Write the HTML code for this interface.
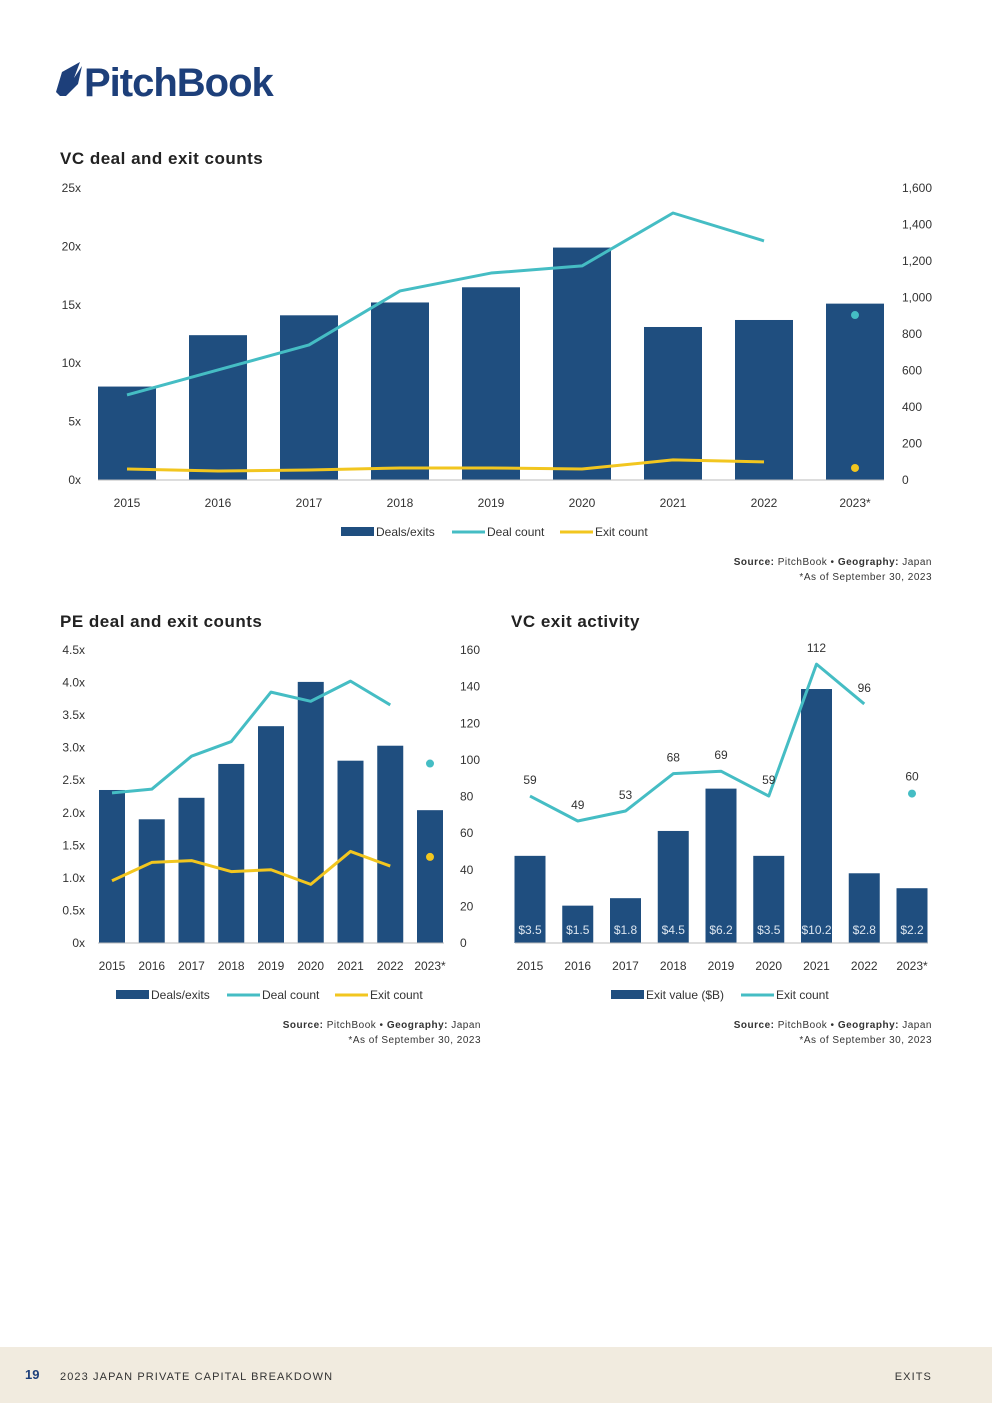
<!DOCTYPE html>
<html><head><meta charset="utf-8"><style>
body{margin:0;background:#fff;}
svg{display:block;font-family:"Liberation Sans",sans-serif;}
.t{font-size:12px;fill:#333;}
.h{font-size:17px;font-weight:bold;fill:#222;letter-spacing:0.5px;}
.s{font-size:10px;fill:#333;letter-spacing:0.5px;}
</style></head><body>
<svg id="pg" width="992" height="1403" viewBox="0 0 992 1403">
<g>
<path d="M62 72 L80 62 L74 78 L82 66 L78 84 L66 96 L60 96 L56 92 Z" fill="#1d3f7a"/>
<text x="84" y="96" font-size="40" font-weight="bold" fill="#1d3f7a" letter-spacing="-1">PitchBook</text>
</g>
<text class="h" x="60" y="164">VC deal and exit counts</text>
<text class="h" x="60" y="627">PE deal and exit counts</text>
<text class="h" x="511" y="627">VC exit activity</text>
<g id="c1"></g><g id="c2"></g><g id="c3"></g>
<g><text class="s" x="932" y="565" text-anchor="end"><tspan font-weight="bold">Source:</tspan> PitchBook • <tspan font-weight="bold">Geography:</tspan> Japan</text><text class="s" x="932" y="580" text-anchor="end">*As of September 30, 2023</text></g>
<g><text class="s" x="481" y="1028" text-anchor="end"><tspan font-weight="bold">Source:</tspan> PitchBook • <tspan font-weight="bold">Geography:</tspan> Japan</text><text class="s" x="481" y="1043" text-anchor="end">*As of September 30, 2023</text></g>
<g><text class="s" x="932" y="1028" text-anchor="end"><tspan font-weight="bold">Source:</tspan> PitchBook • <tspan font-weight="bold">Geography:</tspan> Japan</text><text class="s" x="932" y="1043" text-anchor="end">*As of September 30, 2023</text></g>
<g>
<rect x="0" y="1347" width="992" height="56" fill="#f1ebdf"/>
<text x="25" y="1379" font-size="13" font-weight="bold" fill="#1d3f7a">19</text>
<text x="60" y="1380" font-size="11" fill="#333" letter-spacing="1.1">2023 JAPAN PRIVATE CAPITAL BREAKDOWN</text>
<text x="932" y="1380" font-size="11" fill="#333" letter-spacing="1.1" text-anchor="end">EXITS</text>
</g>
</svg>
<script>
const years=["2015","2016","2017","2018","2019","2020","2021","2022","2023*"];
const vcBars=[8.0,12.4,14.1,15.2,16.5,19.9,13.1,13.7,15.1];
const vcDeals=[466,603,740,1036,1134,1173,1463,1310,904];
const vcExits=[60,49,55,66,66,60,110,99,66];
const vcLeftTicks=["0x","5x","10x","15x","20x","25x"];
const vcRightTicks=["0","200","400","600","800","1,000","1,200","1,400","1,600"];
const peBars=[2.35,1.90,2.23,2.75,3.33,4.01,2.80,3.03,2.04];
const peDeals=[82,84,102,110,137,132,143,130,98];
const peExits=[34,44,45,39,40,32,50,42,47];
const peLeftTicks=["0x","0.5x","1.0x","1.5x","2.0x","2.5x","3.0x","3.5x","4.0x","4.5x"];
const peRightTicks=["0","20","40","60","80","100","120","140","160"];
const exValues=[3.5,1.5,1.8,4.5,6.2,3.5,10.2,2.8,2.2];
const exValueLabels=["$3.5","$1.5","$1.8","$4.5","$6.2","$3.5","$10.2","$2.8","$2.2"];
const exCounts=[59,49,53,68,69,59,112,96,60];

const NS="http://www.w3.org/2000/svg";
const NAVY="#1f4e7f",TEAL="#45bdc4",GOLD="#f2c61f";
function mk(p,tag,a,txt){const e=document.createElementNS(NS,tag);for(const k in a)e.setAttribute(k,a[k]);if(txt!=null)e.textContent=txt;p.appendChild(e);return e;}
function chart(g,o){
  const n=years.length,step=(o.c1-o.c0)/(n-1);
  const xc=i=>o.c0+step*i;
  const yL=v=>o.base-(v/o.lMax)*(o.base-o.top);
  const yR=v=>o.base-(v/o.rMax)*(o.base-o.top);
  if(o.lTicks)o.lTicks.forEach((t,i)=>{const e=mk(g,"text",{class:"t",x:o.lx,y:yL(i*o.lMax/(o.lTicks.length-1))+4,"text-anchor":"end"},t);
    
    });
  if(o.rTicks)o.rTicks.forEach((t,i)=>{const e=mk(g,"text",{class:"t",x:o.rx,y:yR(i*o.rMax/(o.rTicks.length-1))+4},t);
    
    });
  o.bars.forEach((v,i)=>{const r=mk(g,"rect",{x:xc(i)-o.bw/2,y:yL(v),width:o.bw,height:o.base-yL(v),fill:NAVY});
    
    
    if(o.barLabels){const t=mk(g,"text",{class:"t",x:xc(i),y:o.base-9,"text-anchor":"middle",style:"fill:#dde6f0"},o.barLabels[i]);
      
      }
  });
  const ax=mk(g,"line",{x1:o.x0,x2:o.x1,y1:o.base,y2:o.base,stroke:"#bbb","stroke-width":1});
  
  
  years.forEach((y,i)=>{const t=mk(g,"text",{class:"t",x:xc(i),y:o.base+27,"text-anchor":"middle"},y);
    
    });
  o.lines.forEach(L=>{
    const pts=L.vals.slice(0,n-1).map((v,i)=>xc(i)+","+yR(v)).join(" ");
    const pl=mk(g,"polyline",{points:pts,fill:"none",stroke:L.c,"stroke-width":3,"stroke-linejoin":"round"});
    
    
    const d=mk(g,"circle",{cx:xc(n-1),cy:yR(L.vals[n-1]),r:4,fill:L.c});
    
    
    if(L.labels)L.vals.forEach((v,i)=>{const t=mk(g,"text",{class:"t",x:xc(i),y:yR(v)-(i==n-1?13:12),"text-anchor":"middle"},String(v));
      
      });
  });
  let x=o.legX;const ly=o.base+52;
  o.legend.forEach(it=>{
    const lg=mk(g,"g",{});
    
    
    if(it.bar)mk(lg,"rect",{x:x,y:ly-5,width:33,height:9,fill:NAVY});
    else mk(lg,"line",{x1:x,x2:x+33,y1:ly,y2:ly,stroke:it.c,"stroke-width":3});
    mk(lg,"text",{class:"t",x:x+35,y:ly+4},it.t);
    x+=it.w;
  });
}
chart(document.getElementById("c1"),{x0:98,x1:884,c0:127,c1:855,base:480,top:188,lMax:25,rMax:1600,bw:58,lx:81,rx:902,
  lTicks:vcLeftTicks,rTicks:vcRightTicks,bars:vcBars,
  lines:[{vals:vcDeals,c:TEAL,name:"deal-count"},{vals:vcExits,c:GOLD,name:"exit-count"}],
  legX:341,legend:[{bar:1,t:"Deals/exits",w:111},{c:TEAL,t:"Deal count",w:108},{c:GOLD,t:"Exit count",w:100}]});
chart(document.getElementById("c2"),{x0:98,x1:444,c0:112,c1:430,base:943,top:650,lMax:4.5,rMax:160,bw:26,lx:85,rx:460,
  lTicks:peLeftTicks,rTicks:peRightTicks,bars:peBars,
  lines:[{vals:peDeals,c:TEAL,name:"pe-deal-count"},{vals:peExits,c:GOLD,name:"pe-exit-count"}],
  legX:116,legend:[{bar:1,t:"Deals/exits",w:111},{c:TEAL,t:"Deal count",w:108},{c:GOLD,t:"Exit count",w:100}]});
chart(document.getElementById("c3"),{x0:515,x1:928,c0:530,c1:912,base:943,top:650,lMax:293/24.9,rMax:293/2.49,bw:31,
  bars:exValues,barLabels:exValueLabels,
  lines:[{vals:exCounts,c:TEAL,name:"vc-exit-count",labels:1}],
  legX:611,legend:[{bar:1,t:"Exit value ($B)",w:130},{c:TEAL,t:"Exit count",w:100}]});
</script>
</body></html>
